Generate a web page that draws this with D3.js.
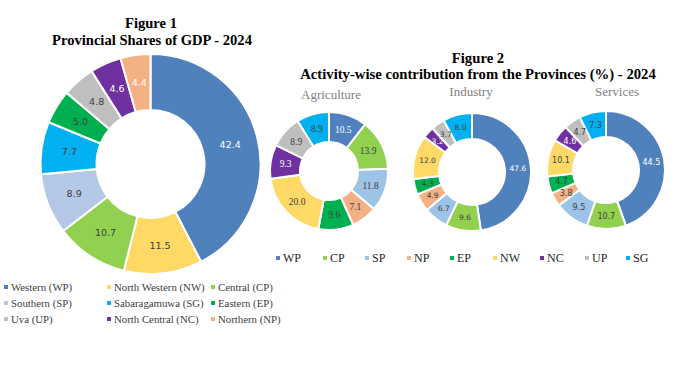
<!DOCTYPE html>
<html><head><meta charset="utf-8">
<script src="https://cdn.jsdelivr.net/npm/d3@7/dist/d3.min.js"></script>
<style>html,body{margin:0;padding:0;background:#fff;}svg{display:block;}</style>
</head><body>
<svg id="c" width="679" height="382"></svg>
<script>
// ---- Figure 1 data ----
const fig1Codes  = ["WP","NW","CP","SP","SG","EP","UP","NC","NP"];
const fig1Values = [42.4, 11.5, 10.7, 8.9, 7.7, 5.0, 4.8, 4.6, 4.4];
const fig1LegendNames = ["Western (WP)","North Western (NW)","Central (CP)",
                         "Southern (SP)","Sabaragamuwa (SG)","Eastern (EP)",
                         "Uva (UP)","North Central (NC)","Northern (NP)"];
const fig1LegendCodes = ["WP","NW","CP","SP","SG","EP","UP","NC","NP"];

// ---- Figure 2 data ----
const fig2Codes = ["WP","CP","SP","NP","EP","NW","NC","UP","SG"];
const agricultureValues = [10.5, 13.9, 11.8, 7.1, 9.6, 20.0, 9.3, 8.9, 8.9];
const industryValues    = [47.6, 9.6, 6.7, 4.9, 4.3, 12.0, 3.2, 3.7, 8.0];
const servicesValues    = [44.5, 10.7, 9.5, 3.8, 4.7, 10.1, 4.6, 4.7, 7.3];
const fig2Sectors = ["Agriculture","Industry","Services"];

const colors1 = {WP:"#4F81BD",NW:"#FFD966",CP:"#92D050",SP:"#B4C7E7",SG:"#00B0F0",
                 EP:"#00B050",UP:"#BFBFBF",NC:"#7030A0",NP:"#F4B183"};
const colors2 = {WP:"#4F81BD",CP:"#92D050",SP:"#9DC3E6",NP:"#F4B183",EP:"#00B050",
                 NW:"#FFD966",NC:"#7030A0",UP:"#BFBFBF",SG:"#00B0F0"};
const whiteText = new Set(["WP","NC"]);

const svg = d3.select("#c");
const serif = "'Liberation Serif', serif";

function fitWidth(sel, w){
  const n = sel.node(); const cur = n.getComputedTextLength();
  const fs = parseFloat(sel.attr("font-size"));
  sel.attr("font-size", (fs * w / cur).toFixed(2));
}

// ---- Figure 1 ----
const t1a = svg.append("text").attr("x",151).attr("y",28).attr("text-anchor","middle")
  .attr("font-family",serif).attr("font-weight","bold").attr("font-size",14).attr("fill","#000")
  .text("Figure 1");
const t1b = svg.append("text").attr("x",152).attr("y",45).attr("text-anchor","middle")
  .attr("font-family",serif).attr("font-weight","bold").attr("font-size",14).attr("fill","#000")
  .text("Provincial Shares of GDP - 2024");
fitWidth(t1b, 200); t1a.attr("font-size", t1b.attr("font-size"));

function donut(g, codes, values, colorMap, rOuter, rInner, fontFamily, fontSize, npWhite){
  const pie = d3.pie().sort(null).value(d=>d.v);
  const data = pie(codes.map((c,i)=>({c, v: values[i]})));
  const arc = d3.arc().innerRadius(rInner).outerRadius(rOuter);
  const rMid = (rInner+rOuter)/2;
  g.selectAll("path").data(data).join("path")
    .attr("d", arc).attr("fill", d=>colorMap[d.data.c])
    .attr("stroke","#fff").attr("stroke-width",2).attr("stroke-linejoin","miter");
  data.forEach(d=>{ d.la = (d.startAngle+d.endAngle)/2; });
  const labels = g.selectAll("text").data(data).join("text")
    .attr("text-anchor","middle").attr("dy","0.35em")
    .attr("font-family", fontFamily).attr("font-size", fontSize)
    .attr("fill", d=> whiteText.has(d.data.c) || (npWhite && d.data.c==="NP") ? "#fff" : "#404040")
    .text(d=>d3.format(".1f")(d.data.v));
  const place = () => labels.attr("transform", d=>`translate(${rMid*Math.sin(d.la)},${-rMid*Math.cos(d.la)})`);
  place();
  // simple collision relaxation between neighbouring labels
  const nodes = labels.nodes();
  for (let it=0; it<30; it++){
    let moved = false;
    for (let i=0;i<nodes.length;i++){
      const j=(i+1)%nodes.length;
      const a=nodes[i].getBoundingClientRect(), b=nodes[j].getBoundingClientRect();
      const ox = Math.min(a.right,b.right)-Math.max(a.left,b.left);
      const oy = Math.min(a.bottom,b.bottom)-Math.max(a.top,b.top)-2;
      if (ox>0 && oy>0){
        data[i].la -= 0.01; data[j].la += 0.01; moved = true;
      }
    }
    if(!moved) break;
    place();
  }
}

const g1 = svg.append("g").attr("transform","translate(150.5,164)");
donut(g1, fig1Codes, fig1Values, colors1, 110, 54, "'DejaVu Sans', sans-serif", 9.5, true);

// Figure 1 legend
const leg1X = [6, 109, 213], leg1Y = [287, 303, 319];
fig1LegendNames.forEach((name,i)=>{
  const col = i%3, row = Math.floor(i/3);
  const x = leg1X[col], y = leg1Y[row];
  svg.append("rect").attr("x",x-2).attr("y",y-2).attr("width",4).attr("height",4)
    .attr("fill",colors1[fig1LegendCodes[i]]);
  svg.append("text").attr("x",x+5).attr("y",y).attr("dy","0.35em")
    .attr("font-family",serif).attr("font-size",10.8).attr("fill","#404040")
    .text(name);
});

// ---- Figure 2 ----
const t2a = svg.append("text").attr("x",478).attr("y",63).attr("text-anchor","middle")
  .attr("font-family",serif).attr("font-weight","bold").attr("font-size",14).attr("fill","#000")
  .text("Figure 2");
const t2b = svg.append("text").attr("x",478).attr("y",79).attr("text-anchor","middle")
  .attr("font-family",serif).attr("font-weight","bold").attr("font-size",14).attr("fill","#000")
  .text("Activity-wise contribution from the Provinces (%) - 2024");
fitWidth(t2b, 356); t2a.attr("font-size", t2b.attr("font-size"));

const sectorVals = [agricultureValues, industryValues, servicesValues];
const centers = [[329,171],[472,172],[606,170]];
const subX = [331, 471, 617], subY = [99, 96, 96];
const labelSizes = [9.5, 7.5, 8];
fig2Sectors.forEach((s,i)=>{
  svg.append("text").attr("x",subX[i]).attr("y",subY[i]).attr("text-anchor","middle")
    .attr("font-family",serif).attr("font-size",13).attr("fill","#7F7F7F")
    .text(s);
  const g = svg.append("g").attr("transform",`translate(${centers[i]})`);
  donut(g, fig2Codes, sectorVals[i], colors2, 59, i===0?29:33,
        i===0 ? serif : "'DejaVu Sans', sans-serif", labelSizes[i], false);
});

// Figure 2 legend
const leg2X = [278, 325, 367, 409, 452, 495, 542, 587, 628];
fig2Codes.forEach((c,i)=>{
  const x = leg2X[i], y = 258;
  svg.append("rect").attr("x",x-2).attr("y",y-2).attr("width",4).attr("height",4).attr("fill",colors2[c]);
  svg.append("text").attr("x",x+5).attr("y",y).attr("dy","0.35em")
    .attr("font-family",serif).attr("font-size",12).attr("fill","#262626")
    .text(c);
});
</script>
</body></html>
